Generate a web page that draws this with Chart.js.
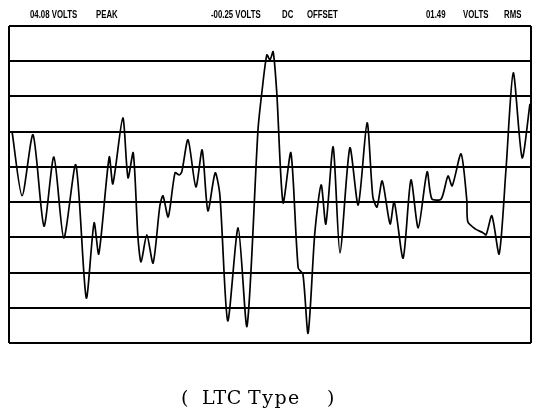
<!DOCTYPE html>
<html>
<head>
<meta charset="utf-8">
<script src="https://cdn.jsdelivr.net/npm/chart.js@4/dist/chart.umd.min.js"></script>
<style>
    body { margin: 0; background: #fff; }
    .wrap { position: relative; width: 543px; height: 419px; }
    .hdr { position: absolute; top: 9px; font-family: "Liberation Sans", Arial, sans-serif; font-size: 10px; font-weight: bold; color: #000; white-space: pre; transform: scaleX(0.78); transform-origin: left top; }
    .cap { position: absolute; top: 386px; font-family: "DejaVu Serif", "Liberation Serif", serif; font-size: 19px; color: #000; white-space: pre; }
</style>
</head>
<body>
<div class="wrap">
    <canvas id="scopeChart" width="543" height="419"></canvas>
    <span class="hdr" style="left:30px">04.08 VOLTS</span>
    <span class="hdr" style="left:96px">PEAK</span>
    <span class="hdr" style="left:211px">-00.25 VOLTS</span>
    <span class="hdr" style="left:282px">DC</span>
    <span class="hdr" style="left:307px">OFFSET</span>
    <span class="hdr" style="left:426px">01.49</span>
    <span class="hdr" style="left:463px">VOLTS</span>
    <span class="hdr" style="left:504px">RMS</span>
    <span class="cap" style="left:181px">(</span>
    <span class="cap" style="left:202px; letter-spacing:0.5px">LTC</span>
    <span class="cap" style="left:248px; letter-spacing:1.5px">Type</span>
    <span class="cap" style="left:327px">)</span>
</div>
<script>
// sweep position (% of screen width) and trace level (grid divisions, 0 = bottom line)
const sweep = [0.6, 2.5, 4.6, 6.7, 8.6, 10.5, 12.8, 14.8, 16.3, 17.2,
    19.2, 19.9, 21.8, 22.8, 23.8, 24.7, 25.3, 26.4, 27.6, 28.9,
    29.5, 30.5, 31.8, 32.6, 33.1, 34.3, 35.8, 37.0, 38.1, 39.5,
    40.4, 41.9, 43.9, 45.6, 47.7, 48.5, 49.4, 50.0, 50.6, 51.3,
    52.5, 54.0, 55.4, 56.3, 57.3, 58.6, 59.8, 60.7, 62.1, 63.4,
    65.3, 66.9, 68.6, 69.7, 70.5, 71.5, 73.0, 73.8, 75.5, 77.0,
    78.4, 80.1, 81.0, 82.8, 84.1, 84.9, 86.6, 87.7, 87.9, 89.3,
    90.8, 91.4, 92.5, 93.9, 95.2, 96.6, 98.3, 99.8];
const level = [5.99, 4.18, 5.91, 3.32, 5.28, 2.98, 5.06, 1.28, 3.41, 2.53,
    5.28, 4.52, 6.39, 4.69, 5.40, 3.01, 2.30, 3.07, 2.27, 3.89,
    4.18, 3.58, 4.83, 4.77, 4.86, 5.77, 4.43, 5.48, 3.75, 4.83,
    4.20, 0.63, 3.27, 0.48, 6.05, 7.19, 8.18, 8.04, 8.27, 7.10,
    3.98, 5.40, 2.13, 1.96, 0.28, 3.15, 4.49, 3.38, 5.57, 2.56,
    5.54, 3.92, 6.25, 4.15, 3.86, 4.60, 3.38, 4.01, 2.41, 4.63,
    3.27, 4.86, 4.09, 4.09, 4.74, 4.46, 5.37, 4.06, 3.44, 3.24,
    3.13, 3.07, 3.61, 2.53, 4.91, 7.67, 5.26, 6.79];
const divisions = 9;

const trace = sweep.map(function(t, i) {
    return { x: t, y: level[i] };
});

const ctx = document.getElementById('scopeChart').getContext('2d');
const scopeChart = new Chart(ctx, {
    type: 'line',
    data: {
        datasets: [{
            data: trace,
            borderColor: '#000',
            borderWidth: 1.7,
            pointRadius: 0,
            tension: 0.25,
            fill: false
        }]
    },
    options: {
        responsive: false,
        animation: false,
        layout: {
            padding: { left: 9, right: 12, top: 26, bottom: 76 }
        },
        plugins: {
            legend: { display: false },
            tooltip: { enabled: false }
        },
        scales: {
            x: {
                type: 'linear',
                min: 0,
                max: 100,
                ticks: { display: false, stepSize: 100 },
                grid: { color: '#000', lineWidth: 2, drawTicks: false },
                border: { display: false }
            },
            y: {
                min: 0,
                max: divisions,
                ticks: { display: false, stepSize: 1 },
                grid: { color: '#000', lineWidth: 2, drawTicks: false },
                border: { display: false }
            }
        }
    }
});
</script>
</body>
</html>
